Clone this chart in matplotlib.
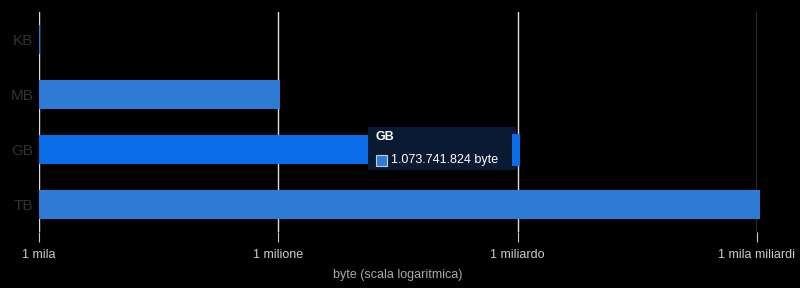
import matplotlib.pyplot as plt
from matplotlib.patches import Rectangle

categories = ["KB", "MB", "GB", "TB"]
values = [1024, 1048576, 1073741824, 1099511627776]
tick_values = [1e3, 1e6, 1e9, 1e12]
tick_labels = ["1 mila", "1 milione", "1 miliardo", "1 mila miliardi"]

plt.rcParams['font.family'] = ['Liberation Sans', 'DejaVu Sans']

fig = plt.figure(figsize=(8, 2.88), dpi=100, facecolor='black')
ax = fig.add_axes([39 / 800, 1 - 232 / 288, (757 - 39) / 800, 220 / 288])
ax.set_facecolor('black')

base = tick_values[0]
colors = ['#2e7bd6', '#2e7bd6', '#0a6ee8', '#2e7bd6']
y = list(range(len(categories)))
bars = ax.barh(y, [v - base for v in values], height=0.53, color=colors, left=base, zorder=3)
for b in bars:
    b.set_clip_on(False)

ax.set_xscale('log')
ax.set_xlim(1e3, 1e12)
ax.set_ylim(3.5, -0.5)
ax.set_yticks(y)
ax.set_yticklabels(categories, color='#333333', fontsize=11)
ax.set_xticks(tick_values)
ax.set_xticklabels(tick_labels, color='#cccccc', fontsize=9)
ax.xaxis.set_minor_locator(plt.NullLocator())
ax.tick_params(axis='y', length=0, pad=4)
ax.tick_params(axis='x', length=7, color='#cccccc', pad=5)
ax.grid(axis='x', color='#dddddd', linewidth=1, zorder=1)
for s in ax.spines.values():
    s.set_visible(False)
ax.set_xlabel("byte (scala logaritmica)", color='#aaaaaa', fontsize=9, labelpad=6)

# tooltip on GB bar
tip_x0, tip_y0, tip_w, tip_h = 368 / 800, 1 - 170 / 288, 148 / 800, 43 / 288
fig.patches.append(Rectangle((tip_x0, tip_y0), tip_w, tip_h, transform=fig.transFigure,
                             facecolor='#0b1a33', edgecolor='none', zorder=5))
fig.patches.append(Rectangle((512 / 800, 1 - 166 / 288), 8 / 800, 32 / 288, transform=fig.transFigure,
                             facecolor='#0a6ee8', edgecolor='none', zorder=6))
fig.text(375 / 800, 1 - 137 / 288, "GB", color='white', fontsize=9, fontweight='bold',
         va='center', zorder=7)
fig.patches.append(Rectangle((376 / 800, 1 - 166 / 288), 11 / 800, 11 / 288, transform=fig.transFigure,
                             facecolor='#2e7bd6', edgecolor='#cccccc', linewidth=0.8, zorder=7))
fig.text(391 / 800, 1 - 160 / 288, "1.073.741.824 byte", color='white', fontsize=9,
         va='center', zorder=7)

fig.savefig("out.png", dpi=100, facecolor='black')
